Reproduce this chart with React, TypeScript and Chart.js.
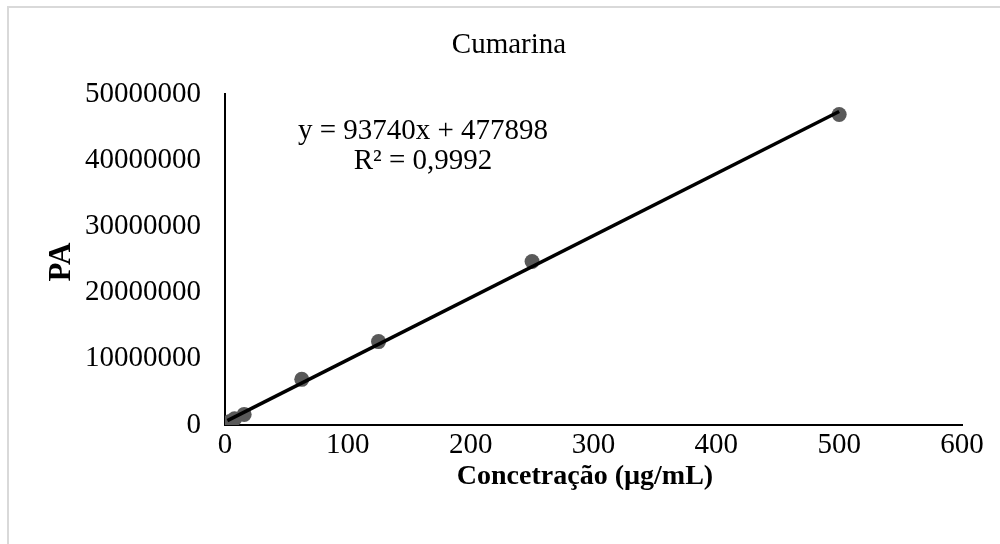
import React, { useEffect, useRef } from "react";
import { Chart, registerables } from "chart.js";

Chart.register(...registerables);

// Calibration standards: concentration (µg/mL) vs peak area
const concentrations = [1.95, 3.9, 7.8, 15.6, 62.5, 125, 250, 500];
const peakAreas = [250000, 520000, 950000, 1600000, 6900000, 12600000, 24700000, 46900000];

// Linear fit reported on the chart
const slope = 93740;
const intercept = 477898;
const equationLabel = "y = 93740x + 477898";
const r2Label = "R² = 0,9992";

const chartTitle = "Cumarina";
const xAxisTitle = "Concetração (µg/mL)";
const yAxisTitle = "PA";

const xTicks = { min: 0, max: 600, step: 100 };
const yTicks = { min: 0, max: 50000000, step: 10000000 };

const SERIF = "'Liberation Serif', 'Times New Roman', serif";

const trendStart = concentrations[0];
const trendEnd = concentrations[concentrations.length - 1];
const trendPoints = [
  { x: trendStart, y: slope * trendStart + intercept },
  { x: trendEnd, y: slope * trendEnd + intercept },
];

const decorPlugin = {
  id: "decor",
  afterDraw(chart: any) {
    const ctx = chart.ctx as CanvasRenderingContext2D;
    const area = chart.chartArea;
    ctx.save();
    // frame
    ctx.strokeStyle = "#d9d9d9";
    ctx.lineWidth = 2;
    ctx.strokeRect(8, 7, 1200, 700);

    ctx.fillStyle = "#000";
    ctx.textAlign = "center";
    ctx.textBaseline = "middle";

    // title
    ctx.font = `29px ${SERIF}`;
    ctx.fillText(chartTitle, 509, 45);

    // equation & R²
    ctx.font = `29px ${SERIF}`;
    ctx.fillText(equationLabel, 423, 131);
    ctx.fillText(r2Label, 423, 161);

    // x axis title
    ctx.font = `bold 28px ${SERIF}`;
    ctx.fillText(xAxisTitle, 585, 477);

    // y axis title
    ctx.save();
    ctx.translate(62, 262);
    ctx.rotate(-Math.PI / 2);
    ctx.font = `bold 31px ${SERIF}`;
    ctx.fillText(yAxisTitle, 0, 0);
    ctx.restore();

    ctx.restore();
  },
};

export default function App() {
  const canvasRef = useRef<HTMLCanvasElement | null>(null);

  useEffect(() => {
    document.body.style.margin = "0";
    const canvas = canvasRef.current;
    if (!canvas) return;
    const chart = new Chart(canvas, {
      type: "scatter",
      data: {
        datasets: [
          {
            type: "line",
            label: "Linear",
            data: trendPoints,
            borderColor: "#000000",
            borderWidth: 3.5,
            pointRadius: 0,
            fill: false,
            order: 0,
          } as any,
          {
            label: "PA",
            data: concentrations.map((x, i) => ({ x, y: peakAreas[i] })),
            backgroundColor: "#595959",
            borderWidth: 0,
            pointRadius: 7.5,
            order: 1,
          },
        ],
      },
      options: {
        responsive: false,
        animation: false,
        layout: { padding: { top: 94, right: 38, left: 0, bottom: 0 } },
        plugins: {
          legend: { display: false },
          title: { display: false },
          tooltip: { enabled: false },
        },
        scales: {
          x: {
            type: "linear",
            min: xTicks.min,
            max: xTicks.max,
            afterFit(scale: any) {
              scale.height = 544 - 425;
            },
            grid: { display: false, drawTicks: false },
            border: { display: true, color: "#000", width: 2 },
            ticks: {
              stepSize: xTicks.step,
              padding: 3,
              color: "#000",
              font: { family: SERIF, size: 29 },
              callback: (v: any) => String(v),
            },
          },
          y: {
            type: "linear",
            min: yTicks.min,
            max: yTicks.max,
            afterFit(scale: any) {
              scale.width = 225;
            },
            grid: { display: false, drawTicks: false },
            border: { display: true, color: "#000", width: 2 },
            ticks: {
              stepSize: yTicks.step,
              padding: 24,
              color: "#000",
              font: { family: SERIF, size: 29 },
              callback: (v: any) => String(v),
            },
          },
        },
      },
      plugins: [decorPlugin],
    });
    return () => chart.destroy();
  }, []);

  return (
    <div style={{ width: 1000, height: 544, background: "#fff" }}>
      <canvas ref={canvasRef} width={1000} height={544} />
    </div>
  );
}
